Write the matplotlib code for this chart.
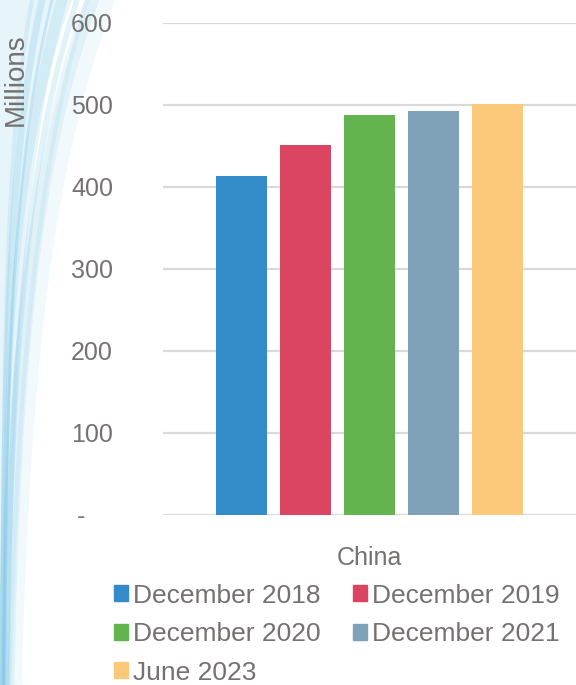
import numpy as np
import matplotlib.pyplot as plt
from matplotlib.patches import Patch

periods = ["December 2018", "December 2019", "December 2020", "December 2021", "June 2023"]
users = [413, 451, 488, 493, 501]
colors = ["#338bc9", "#dc4561", "#63b44e", "#7fa2b8", "#fbc97a"]
region = "China"
y_ticks = [0, 100, 200, 300, 400, 500, 600]
y_tick_labels = ["-    ", "100", "200", "300", "400", "500", "600"]

text_grey = "#767171"
plt.rcParams["font.family"] = ["Liberation Sans", "DejaVu Sans"]

fig = plt.figure(figsize=(5.76, 6.85), dpi=100)

# soft blue streaks sweeping down the left edge
bg = fig.add_axes([0, 0, 1, 1], zorder=-1)
bg.set_xlim(0, 576)
bg.set_ylim(685, 0)
bg.axis("off")
ys = np.linspace(-10, 720, 300)
streaks = [(100, 260, 0.08, 18), (90, 240, 0.12, 10), (75, 230, 0.18, 4),
           (60, 210, 0.15, 8), (50, 200, 0.25, 2), (40, 180, 0.2, 5),
           (85, 280, 0.1, 3), (30, 160, 0.15, 3)]
for x0, reach, a, lw in streaks:
    xs = x0 * np.exp(-np.clip(ys, 0, None) / reach) + 2
    bg.plot(xs, ys, color="#5fb9e2", alpha=a, lw=lw)
bg.fill_betweenx(ys, -5, 70 * np.exp(-np.clip(ys, 0, None) / 190) + 2,
                 color="#cbe9f6", alpha=0.45, lw=0)

ax = fig.add_axes([163 / 576, 1 - 515 / 685, 413 / 576, 492 / 685])
step = 0.155
width = 0.124
for i, (label, value, c) in enumerate(zip(periods, users, colors)):
    ax.bar((i - 2) * step, value, width=width, color=c, label=label, zorder=3)

ax.set_xlim(-0.5, 0.5)
ax.set_ylim(0, 600)
ax.set_yticks(y_ticks)
ax.set_yticklabels(y_tick_labels)
ax.set_xticks([0])
ax.set_xticklabels([region])
ax.tick_params(axis="both", length=0, labelsize=18, labelcolor=text_grey)
ax.tick_params(axis="y", pad=36)
ax.tick_params(axis="x", pad=22)
ax.grid(axis="y", color="#d9d9d9", lw=1.6, zorder=0)
for s in ax.spines.values():
    s.set_visible(False)
ax.patch.set_alpha(0)
ax.set_ylabel("Millions", fontsize=20, color=text_grey)
ax.yaxis.set_label_coords(-0.325, 0.885)

order = [0, 2, 4, 1, 3]
handles = [Patch(color=colors[i]) for i in order]
fig.legend(handles, [periods[i] for i in order], ncol=2, frameon=False,
           loc="upper left", bbox_to_anchor=(103 / 576, 1 - 573 / 685),
           fontsize=19, labelcolor=text_grey, handlelength=0.55, handleheight=0.55,
           handletextpad=0.2, columnspacing=1.2, labelspacing=0.55, borderaxespad=0)

fig.savefig("out.png", dpi=100)
